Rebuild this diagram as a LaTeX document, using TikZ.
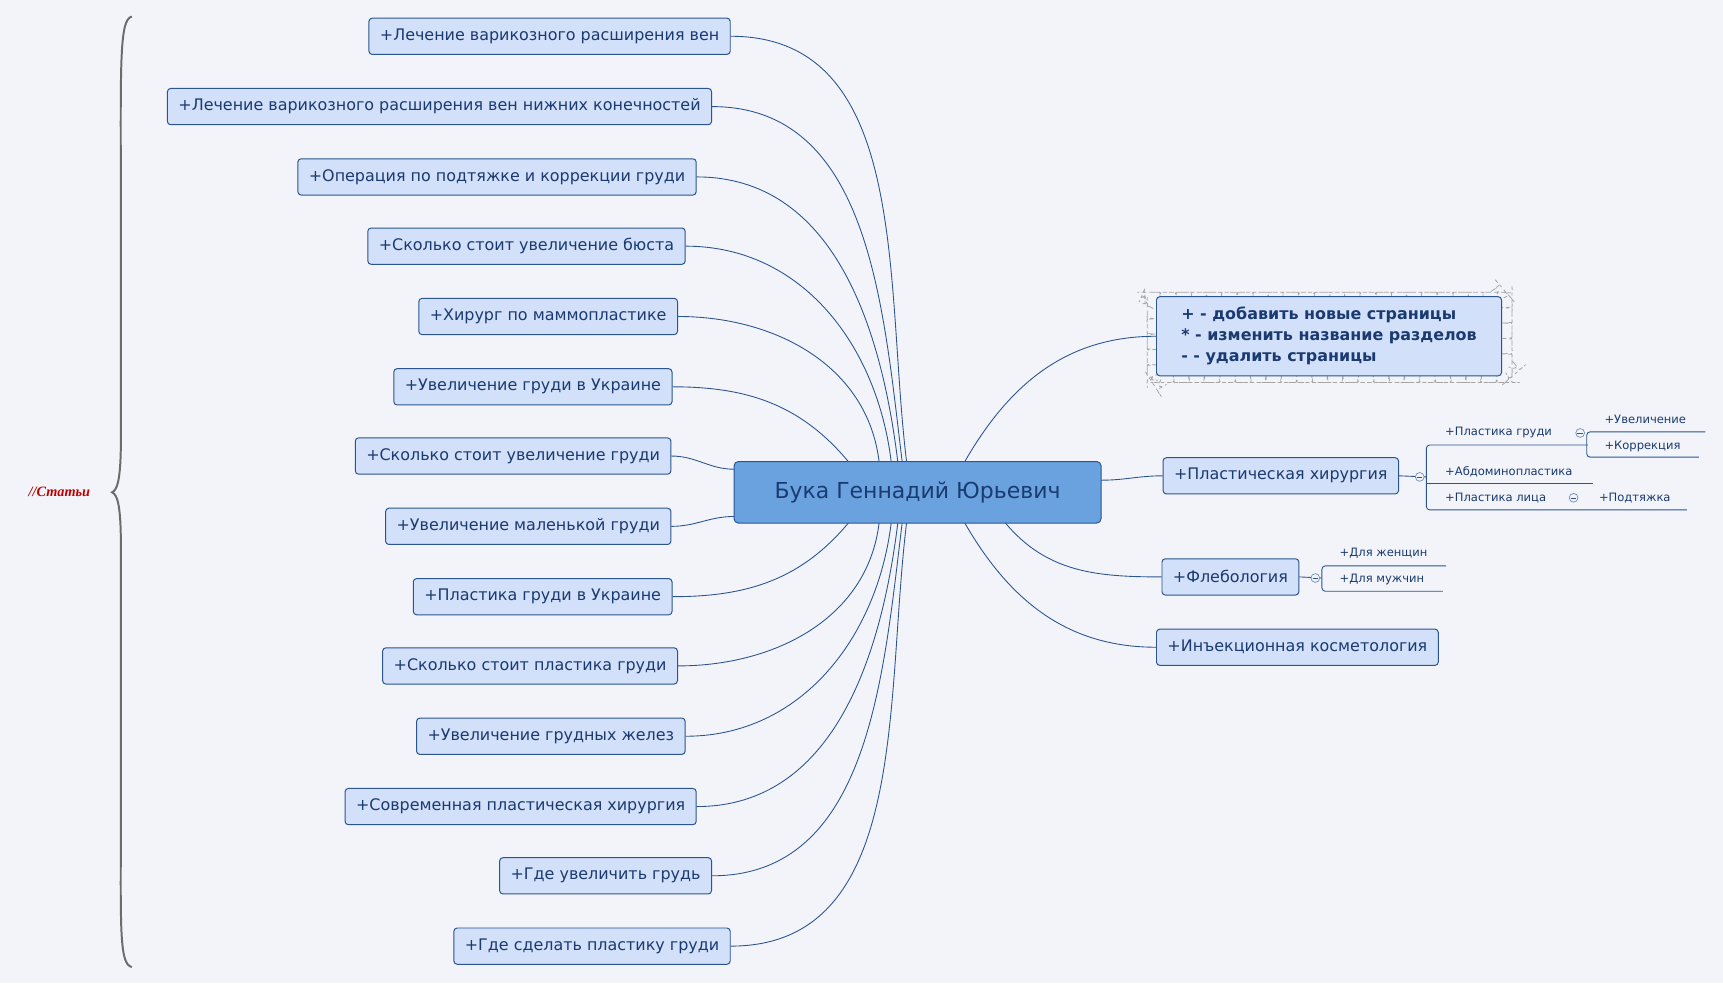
\documentclass[tikz,border=0pt]{standalone}
\usepackage{fontspec}
\setmainfont{DejaVu Sans}
\newfontfamily\serifit{Liberation Serif}
\usetikzlibrary{decorations.pathmorphing,shapes.symbols}
\definecolor{bg}{HTML}{F2F4FA}
\definecolor{bfill}{HTML}{D2E0FA}
\definecolor{bdraw}{HTML}{2B5590}
\definecolor{btext}{HTML}{1A3A70}
\definecolor{cfill}{HTML}{6AA2E0}
\tikzset{
 topic/.style={draw=bdraw,fill=bfill,rounded corners=3pt,line width=0.9pt,text=btext,
   font=\fontsize{14.5}{17}\selectfont,minimum height=33pt,inner xsep=10pt,anchor=east},
 rtopic/.style={topic,anchor=west},
 conn/.style={draw=bdraw,line width=0.8pt},
 sub/.style={text=btext,font=\fontsize{10.5}{12}\selectfont,anchor=west,inner sep=0pt},
 subl/.style={draw=bdraw,line width=0.8pt,rounded corners=3pt},
 coll/.style={draw=bdraw!70,line width=0.6pt,circle,inner sep=0pt,minimum size=8pt,fill=bg}
}
\begin{document}
\begin{tikzpicture}[x=1pt,y=-1pt]
\fill[bg] (0,0) rectangle (1568,895);
\useasboundingbox (0,0) rectangle (1568,895);
% central
\node[draw=bdraw,fill=cfill,rounded corners=4pt,line width=0.9pt,text=btext,
  font=\fontsize{20}{24}\selectfont,minimum width=334pt,minimum height=56pt] (c) at (835,448) {Бука Геннадий Юрьевич};
% left topics
\node[topic] (l1) at (665,33) {+Лечение варикозного расширения вен};
\node[topic] (l2) at (648,97) {+Лечение варикозного расширения вен нижних конечностей};
\node[topic] (l3) at (634,161) {+Операция по подтяжке и коррекции груди};
\node[topic] (l4) at (624,224) {+Сколько стоит увеличение бюста};
\node[topic] (l5) at (617,288) {+Хирург по маммопластике};
\node[topic] (l6) at (612,352) {+Увеличение груди в Украине};
\node[topic] (l7) at (611,415) {+Сколько стоит увеличение груди};
\node[topic] (l8) at (611,479) {+Увеличение маленькой груди};
\node[topic] (l9) at (612,543) {+Пластика груди в Украине};
\node[topic] (l10) at (617,606) {+Сколько стоит пластика груди};
\node[topic] (l11) at (624,670) {+Увеличение грудных желез};
\node[topic] (l12) at (634,734) {+Современная пластическая хирургия};
\node[topic] (l13) at (648,797) {+Где увеличить грудь};
\node[topic] (l14) at (665,861) {+Где сделать пластику груди};
\coordinate (t1) at (825,420); \coordinate (t2) at (821,420); \coordinate (t3) at (817,420);
\coordinate (t4) at (811,420); \coordinate (t5) at (800,420); \coordinate (t6) at (772,420);
\coordinate (t9) at (772,476); \coordinate (t10) at (800,476); \coordinate (t11) at (811,476);
\coordinate (t12) at (817,476); \coordinate (t13) at (821,476); \coordinate (t14) at (825,476);
\foreach \i in {1,...,5} {\draw[conn] (l\i.east) to[out=0,in=97] (t\i);}
\draw[conn] (l6.east) to[out=0,in=130] (t6);
\draw[conn] (l7.east) to[out=0,in=180] (668,427);
\draw[conn] (l8.east) to[out=0,in=180] (668,470);
\draw[conn] (l9.east) to[out=0,in=-130] (t9);
\foreach \i in {10,...,14} {\draw[conn] (l\i.east) to[out=0,in=-97] (t\i);}
% cloud note
\draw[gray!70,dashed,line width=0.7pt,rounded corners=14pt,decorate,decoration={bumps,segment length=28pt,amplitude=4pt}]
  (1040,262) rectangle (1380,352);
\node[draw=bdraw,fill=bfill,rounded corners=3pt,line width=0.9pt,text=btext,align=left,
  font=\bfseries\fontsize{14.5}{19}\selectfont,anchor=west,minimum height=72pt,inner xsep=12pt,minimum width=314pt] (note) at (1052,306)
  {+ - добавить новые страницы\\* - изменить название разделов\\- - удалить страницы};
\draw[conn] (878,420) to[out=60,in=180] (note.west);
% right topics
\node[rtopic] (ps) at (1058,433) {+Пластическая хирургия};
\node[rtopic] (fl) at (1057,525) {+Флебология};
\node[rtopic] (ik) at (1052,589) {+Инъекционная косметология};
\draw[conn] (1002,437) to[out=0,in=180] (ps.west);
\draw[conn] (915,476) to[out=-50,in=180] (fl.west);
\draw[conn] (878,476) to[out=-60,in=180] (ik.west);
% plastic surgery subtopics
\draw[conn] (ps.east) -- (1298,434);
\draw[subl] (1445,405) -- (1298,405) -- (1298,464) -- (1535,464);
\draw[subl] (1298,440) -- (1450,440);
\node[sub] (pg) at (1315,394) {+Пластика груди};
\node[sub] (ab) at (1315,429) {+Абдоминопластика};
\node[sub] (pl) at (1315,453) {+Пластика лица};
\draw[subl] (1552,393) -- (1444,393) -- (1444,416) -- (1546,416);
\node[sub] (uv) at (1460,382) {+Увеличение};
\node[sub] (ko) at (1460,406) {+Коррекция};
\node[sub] (po) at (1455,453) {+Подтяжка};
\node[coll] (c1) at (1292,434) {}; \draw[bdraw,line width=0.5pt] (1289.5,434) -- (1294.5,434);
\node[coll] (c2) at (1438,394) {}; \draw[bdraw,line width=0.5pt] (1435.5,394) -- (1440.5,394);
\node[coll] (c3) at (1432,453) {}; \draw[bdraw,line width=0.5pt] (1429.5,453) -- (1434.5,453);
% phlebology subtopics
\draw[conn] (fl.east) -- (1203,526);
\draw[subl] (1316,515) -- (1203,515) -- (1203,538) -- (1313,538);
\node[sub] (dz) at (1219,503) {+Для женщин};
\node[sub] (dm) at (1219,527) {+Для мужчин};
\node[coll] (c4) at (1197,526) {}; \draw[bdraw,line width=0.5pt] (1194.5,526) -- (1199.5,526);
% brace
\draw[gray!85!black,line width=1.8pt] (120,15) .. controls (108,18) and (110,60) .. (110,200)
  -- (110,400) .. controls (110,440) and (106,446) .. (102,448)
  .. controls (106,450) and (110,456) .. (110,496) -- (110,740)
  .. controls (110,840) and (108,878) .. (120,880);
\node[text=red!75!black,font=\serifit\bfseries\itshape\fontsize{13}{15}\selectfont] (st) at (54,448) {//Статьи};
\end{tikzpicture}
\end{document}
